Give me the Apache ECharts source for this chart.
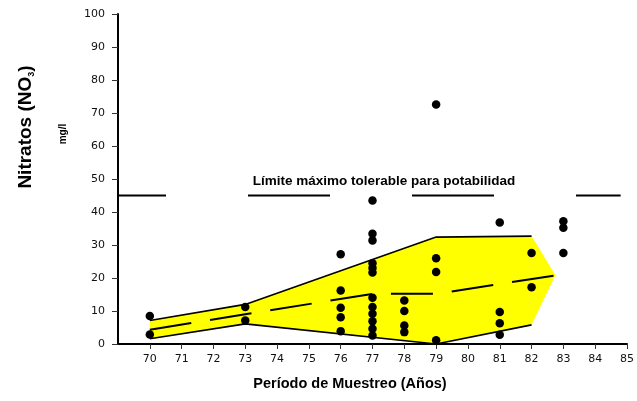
<!DOCTYPE html>
<html>
<head>
<meta charset="utf-8">
<script src="https://cdn.jsdelivr.net/npm/echarts@6/dist/echarts.min.js"></script>
<style>
  html, body { margin: 0; padding: 0; background: #fff; }
  #chart { width: 637px; height: 401px; }
</style>
</head>
<body>
<div id="chart"></div>
<script>
// muestras por año
const sampleYears = [70, 73, 76, 77, 78, 79, 81, 82, 83];
const sampleValues = [
  [8.5, 2.9],
  [11.2, 7.1],
  [27.2, 16.2, 11.0, 8.1, 3.9],
  [43.5, 33.4, 31.4, 24.5, 23.0, 21.7, 14.0, 11.2, 9.2, 6.9, 4.6, 2.6],
  [13.2, 10.0, 5.6, 3.6],
  [72.6, 26.0, 21.8, 1.1],
  [36.8, 9.7, 6.3, 2.8],
  [27.6, 17.2],
  [37.2, 35.2, 27.6]
];

// banda amarilla
const bandUpper = [[70, 7.1], [73, 12.0], [79, 32.4], [82, 32.7]];
const bandTip = [82.75, 20.8];
const bandLower = [[70, 1.6], [73, 6.1], [79, 0.0], [82, 5.8]];
const meanLine = [[70, 4.3], [73, 9.0], [77, 15.2], [79, 15.2], [82.75, 20.8]];

// límite
const limitValue = 45;
const limitRange = [69, 84.8];

const xTicks = { min: 69, max: 85, step: 1 };
const yTicks = { min: 0, max: 100, step: 10 };

const bandPolygon = [...bandUpper, bandTip, ...bandLower.slice().reverse()];
const scatterData = [];
sampleYears.forEach((yr, i) => {
  sampleValues[i].forEach(v => scatterData.push([yr, v]));
});

const chart = echarts.init(document.getElementById('chart'), null, { renderer: 'canvas' });

const labelFont = 'DejaVu Sans';
const titleFont = 'Liberation Sans';

chart.setOption({
  animation: false,
  backgroundColor: '#fff',
  grid: { left: 118, right: 6, top: 14, bottom: 57 },
  xAxis: {
    type: 'value',
    min: xTicks.min,
    max: xTicks.max,
    interval: xTicks.step,
    splitLine: { show: false },
    axisLine: { lineStyle: { color: '#000', width: 2 } },
    axisTick: { length: 5, lineStyle: { color: '#333', width: 1 } },
    axisLabel: {
      showMinLabel: false,
      margin: 10,
      color: '#111',
      fontFamily: labelFont,
      fontSize: 11
    }
  },
  yAxis: {
    type: 'value',
    min: yTicks.min,
    max: yTicks.max,
    interval: yTicks.step,
    splitLine: { show: false },
    axisLine: { lineStyle: { color: '#000', width: 2 } },
    axisTick: { length: 6, lineStyle: { color: '#333', width: 1 } },
    axisLabel: {
      margin: 13,
      color: '#111',
      fontFamily: labelFont,
      fontSize: 11
    }
  },
  graphic: [
    {
      type: 'text',
      x: 26, y: 127,
      rotation: Math.PI / 2,
      style: {
        text: '{a|Nitratos (NO}{s|3}{a|)}',
        align: 'center', verticalAlign: 'middle',
        textAlign: 'center', textVerticalAlign: 'middle',
        rich: {
          a: { fontFamily: titleFont, fontWeight: 'bold', fontSize: 19, lineHeight: 20, fill: '#000' },
          s: { fontFamily: titleFont, fontWeight: 'bold', fontSize: 9, lineHeight: 6, verticalAlign: 'bottom', fill: '#000' }
        }
      }
    },
    {
      type: 'text',
      x: 63, y: 134,
      rotation: Math.PI / 2,
      style: {
        text: 'mg/l',
        font: 'bold 10px "Liberation Sans"',
        align: 'center', verticalAlign: 'middle',
        textAlign: 'center', textVerticalAlign: 'middle',
        fill: '#000'
      }
    },
    {
      type: 'text',
      x: 384, y: 181,
      style: {
        text: 'Límite máximo tolerable para potabilidad',
        font: 'bold 13.5px "Liberation Sans"',
        align: 'center', verticalAlign: 'middle',
        textAlign: 'center', textVerticalAlign: 'middle',
        fill: '#000'
      }
    },
    {
      type: 'text',
      x: 350, y: 384,
      style: {
        text: 'Período de Muestreo (Años)',
        font: 'bold 14.5px "Liberation Sans"',
        align: 'center', verticalAlign: 'middle',
        textAlign: 'center', textVerticalAlign: 'middle',
        fill: '#000'
      }
    }
  ],
  series: [
    {
      type: 'custom',
      silent: true,
      z: 1,
      data: bandPolygon,
      encode: { x: 0, y: 1 },
      renderItem: function (params, api) {
        if (params.dataIndex !== 0) return;
        const pts = bandPolygon.map(p => api.coord(p));
        return { type: 'polygon', shape: { points: pts }, style: { fill: '#ffff00' } };
      }
    },
    {
      type: 'line', z: 2, symbol: 'none', silent: true,
      data: bandUpper,
      lineStyle: { color: '#000', width: 1.6 }
    },
    {
      type: 'line', z: 2, symbol: 'none', silent: true,
      data: bandLower,
      lineStyle: { color: '#000', width: 1.6 }
    },
    {
      type: 'line', z: 3, symbol: 'none', silent: true,
      data: meanLine,
      lineStyle: { color: '#000', width: 2, type: [42, 19] }
    },
    {
      type: 'line', z: 3, symbol: 'none', silent: true,
      data: [[limitRange[0], limitValue], [limitRange[1], limitValue]],
      lineStyle: { color: '#000', width: 2, type: [82, 82], dashOffset: 34 }
    },
    {
      type: 'scatter', z: 5, silent: true,
      symbol: 'circle',
      symbolSize: 8.5,
      data: scatterData,
      itemStyle: { color: '#000', opacity: 1 }
    }
  ]
});
</script>
</body>
</html>
